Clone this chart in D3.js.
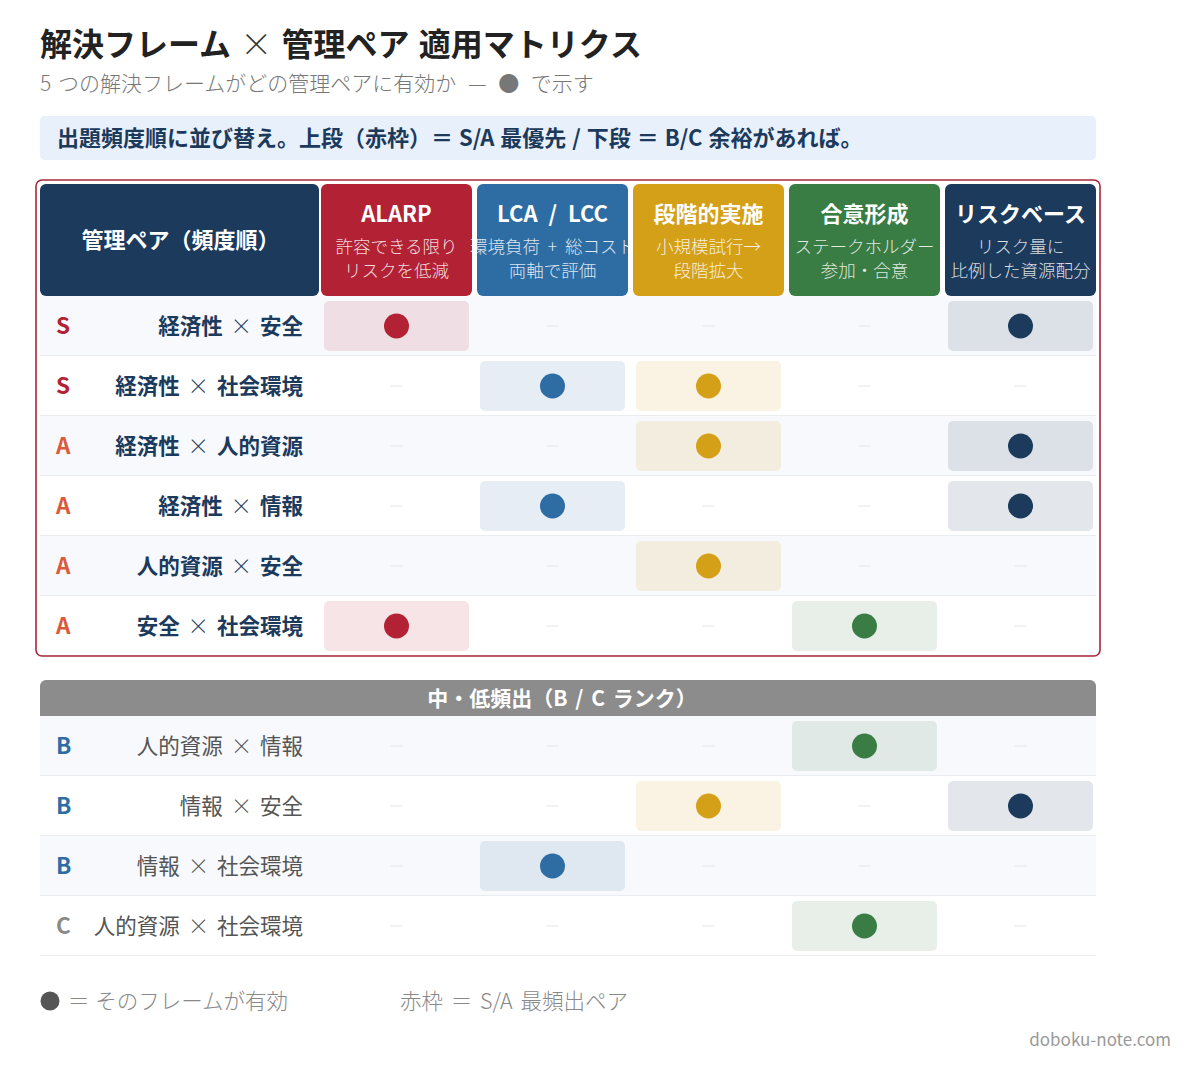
<!DOCTYPE html>
<html><head><meta charset="utf-8">
<script src="https://cdn.jsdelivr.net/npm/d3@7"></script>
<style>
html,body{margin:0;padding:0;background:#fff;}
svg{display:block;font-family:"Noto Sans CJK JP","Noto Sans",sans-serif;}
text{white-space:pre;}
</style></head>
<body>
<svg id="chart" width="1200" height="1068"></svg>
<script>
// ---- data ----
const frames = ["ALARP", "LCA / LCC", "段階的実施", "合意形成", "リスクベース"];
const frameSub1 = ["許容できる限り", "環境負荷 + 総コスト", "小規模試行→", "ステークホルダー", "リスク量に"];
const frameSub2 = ["リスクを低減", "両軸で評価", "段階拡大", "参加・合意", "比例した資源配分"];
const frameColors = ["#b22234", "#2e6da4", "#d4a017", "#3a7d44", "#1b3a5c"];

const topRanks = ["S", "S", "A", "A", "A", "A"];
const topPairs = ["経済性 × 安全", "経済性 × 社会環境", "経済性 × 人的資源", "経済性 × 情報", "人的資源 × 安全", "安全 × 社会環境"];
const topMarks = [
  [1, 0, 0, 0, 1],
  [0, 1, 1, 0, 0],
  [0, 0, 1, 0, 1],
  [0, 1, 0, 0, 1],
  [0, 0, 1, 0, 0],
  [1, 0, 0, 1, 0]
];
const bottomRanks = ["B", "B", "B", "C"];
const bottomPairs = ["人的資源 × 情報", "情報 × 安全", "情報 × 社会環境", "人的資源 × 社会環境"];
const bottomMarks = [
  [0, 0, 0, 1, 0],
  [0, 0, 1, 0, 1],
  [0, 1, 0, 0, 0],
  [0, 0, 0, 1, 0]
];
const rankColors = {S: "#b22234", A: "#dc5a3c", B: "#2e6da4", C: "#8a8a8a"};

const titleText = "解決フレーム × 管理ペア 適用マトリクス";
const subtitleA = "5 つの解決フレームがどの管理ペアに有効か";
const subtitleB = " — ● で示す";
const noteText = "出題頻度順に並び替え。上段（赤枠）＝ S/A 最優先 / 下段 ＝ B/C 余裕があれば。";
const headerLabel = "管理ペア（頻度順）";
const sectionLabel = "中・低頻出（B / C ランク）";
const legend1 = "＝ そのフレームが有効";
const legend2 = "赤枠 ＝ S/A 最頻出ペア";
const credit = "doboku-note.com";

// ---- drawing ----
const svg = d3.select("#chart");

// text with a lighter "×"
function crossText(sel, str, lightColor) {
  const parts = str.split("×");
  sel.append("tspan").text(parts[0]);
  sel.append("tspan").attr("font-weight", 300).attr("fill", lightColor || null).text("×");
  sel.append("tspan").text(parts[1]);
}

const title = svg.append("text").attr("x", 40).attr("y", 56).attr("font-size", 32).attr("font-weight", 700)
  .attr("fill", "#222").attr("word-spacing", 2);
crossText(title, titleText, "#333");
const sub = svg.append("text").attr("x", 40).attr("y", 91).attr("font-size", 21).attr("font-weight", 300)
  .attr("fill", "#777").attr("word-spacing", 2);
sub.append("tspan").text(subtitleA);
sub.append("tspan").attr("word-spacing", 7).text(subtitleB);

svg.append("rect").attr("x", 40).attr("y", 116).attr("width", 1056).attr("height", 44).attr("rx", 5)
  .attr("fill", "#e8f0fb");
svg.append("text").attr("x", 57).attr("y", 146).attr("font-size", 22).attr("font-weight", 700)
  .attr("fill", "#1b3a5c").attr("word-spacing", 1).text(noteText);

const x = d3.scaleBand().domain(frames).range([321, 1096]).paddingInner(5 / 156);
const yTop = d3.scaleBand().domain(topPairs).range([296, 656]);
const yBot = d3.scaleBand().domain(bottomPairs).range([716, 956]);
const left = 40, right = 1096;

// header
svg.append("rect").attr("x", left).attr("y", 184).attr("width", 279).attr("height", 112).attr("rx", 6)
  .attr("fill", "#1b3a5c");
svg.append("text").attr("x", left + 279 / 2 + 1).attr("y", 240).attr("dy", "0.35em").attr("text-anchor", "middle")
  .attr("font-size", 22).attr("font-weight", 700).attr("fill", "#fff").text(headerLabel);

const hg = svg.selectAll("g.hdr").data(frames).join("g").attr("class", "hdr")
  .attr("transform", d => `translate(${x(d)},184)`);
hg.append("rect").attr("width", x.bandwidth()).attr("height", 112).attr("rx", 6)
  .attr("fill", (d, i) => frameColors[i]);
hg.append("text").attr("x", x.bandwidth() / 2).attr("y", 38).attr("text-anchor", "middle")
  .attr("font-size", 22).attr("font-weight", 700).attr("fill", "#fff").attr("word-spacing", 6).text(d => d);
hg.append("text").attr("x", x.bandwidth() / 2).attr("y", 69).attr("text-anchor", "middle")
  .attr("font-size", 17.5).attr("font-weight", 300).attr("fill", "rgba(255,255,255,0.85)").attr("word-spacing", 4)
  .text((d, i) => frameSub1[i]);
hg.append("text").attr("x", x.bandwidth() / 2).attr("y", 93).attr("text-anchor", "middle")
  .attr("font-size", 17.5).attr("font-weight", 300).attr("fill", "rgba(255,255,255,0.85)").text((d, i) => frameSub2[i]);

function drawRows(pairs, ranks, marks, y, strong) {
  const g = svg.append("g");
  const rows = g.selectAll("g.row").data(pairs).join("g").attr("class", "row")
    .attr("transform", d => `translate(0,${y(d)})`);
  rows.append("rect").attr("x", left).attr("width", right - left).attr("height", y.bandwidth())
    .attr("fill", (d, i) => i % 2 === 0 ? "#f7f9fc" : "#ffffff");
  rows.append("line").attr("x1", left).attr("x2", right).attr("y1", y.bandwidth() - 0.5).attr("y2", y.bandwidth() - 0.5)
    .attr("stroke", "#e9edf2").attr("stroke-width", 1);
  rows.append("text").attr("x", 56).attr("y", y.bandwidth() / 2).attr("dy", "0.36em")
    .attr("font-size", 22.5).attr("font-weight", 700).attr("fill", (d, i) => rankColors[ranks[i]])
    .text((d, i) => ranks[i]);
  rows.append("text").attr("x", 303).attr("y", y.bandwidth() / 2).attr("dy", "0.36em").attr("text-anchor", "end")
    .attr("font-size", 21.5).attr("font-weight", strong ? 700 : 400).attr("fill", strong ? "#1b3a5c" : "#555")
    .attr("word-spacing", 3)
    .each(function (d) { crossText(d3.select(this), d); });
  rows.each(function (d, i) {
    const r = d3.select(this);
    frames.forEach((f, j) => {
      const cx = x(f) + x.bandwidth() / 2, cy = y.bandwidth() / 2;
      if (marks[i][j]) {
        r.append("rect").attr("x", x(f) + 3).attr("y", 5).attr("width", x.bandwidth() - 6).attr("height", y.bandwidth() - 10)
          .attr("rx", 5).attr("fill", frameColors[j]).attr("fill-opacity", 0.12);
        r.append("circle").attr("cx", cx).attr("cy", cy).attr("r", 12.5).attr("fill", frameColors[j]);
      } else {
        r.append("line").attr("x1", cx - 6).attr("x2", cx + 6).attr("y1", cy).attr("y2", cy)
          .attr("stroke", "#e2e5ea").attr("stroke-width", 1);
      }
    });
  });
}

drawRows(topPairs, topRanks, topMarks, yTop, true);

// red frame
svg.append("rect").attr("x", 36).attr("y", 180).attr("width", 1064).attr("height", 476).attr("rx", 6)
  .attr("fill", "none").attr("stroke", "#a8283a").attr("stroke-width", 1.6);

// section bar
svg.append("path").attr("d", `M${left},716 V686 a6,6 0 0 1 6,-6 H${right - 6} a6,6 0 0 1 6,6 V716 Z`)
  .attr("fill", "#8c8c8c");
svg.append("text").attr("x", 562).attr("y", 698).attr("dy", "0.36em").attr("text-anchor", "middle")
  .attr("font-size", 21).attr("font-weight", 700).attr("fill", "#fff").attr("word-spacing", 3).text(sectionLabel);

drawRows(bottomPairs, bottomRanks, bottomMarks, yBot, false);

// legend
svg.append("circle").attr("cx", 50).attr("cy", 1001).attr("r", 9.5).attr("fill", "#555");
svg.append("text").attr("x", 68).attr("y", 1001).attr("dy", "0.36em").attr("font-size", 21.5).attr("font-weight", 300)
  .attr("fill", "#888").attr("word-spacing", 1).text(legend1);
svg.append("text").attr("x", 400).attr("y", 1001).attr("dy", "0.36em").attr("font-size", 21.5).attr("font-weight", 300)
  .attr("fill", "#888").attr("word-spacing", 3).text(legend2);
svg.append("text").attr("x", 1171).attr("y", 1040).attr("dy", "0.36em").attr("text-anchor", "end")
  .attr("font-size", 17).attr("fill", "#999").text(credit);
</script>
</body></html>
